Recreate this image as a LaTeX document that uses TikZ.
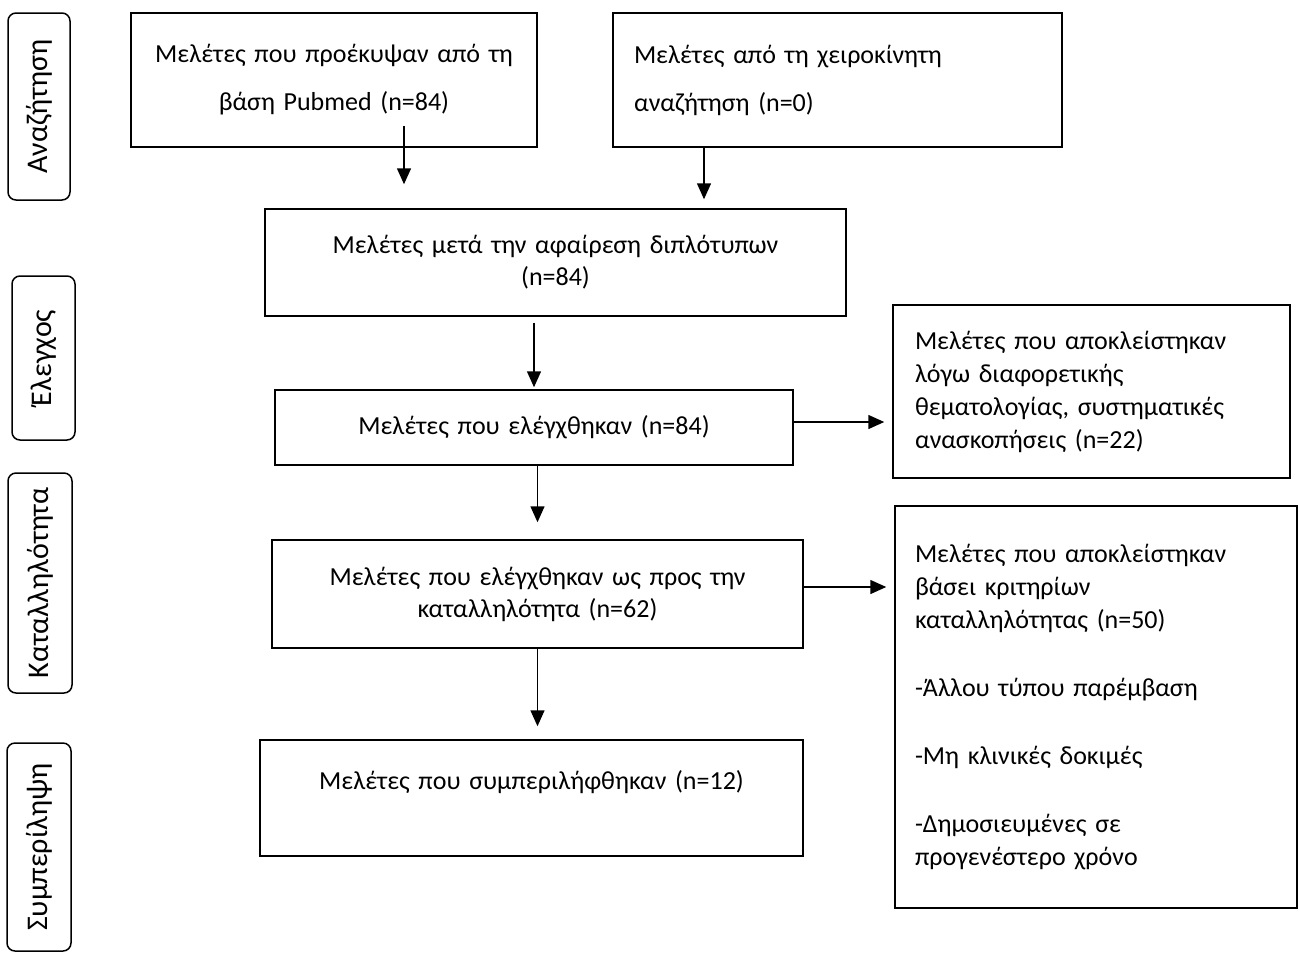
\documentclass[tikz,border=0pt]{standalone}
\usepackage{fontspec}
\setmainfont{Carlito}
\usetikzlibrary{arrows.meta}

\begin{document}
\begin{tikzpicture}[
      x=0.5pt, y=-0.5pt,
      every node/.style={font=\fontsize{13}{16.5}\selectfont},
      flowbox/.style={draw, line width=0.75pt, inner sep=0pt, inner xsep=6pt, align=center},
      leftbox/.style={flowbox, align=left},
      phase/.style={draw, line width=0.75pt, rounded corners=4pt, rotate=90, inner sep=0pt,
        font=\fontsize{15}{18}\selectfont},
      arr/.style={line width=0.75pt, -{Triangle[width=7pt,length=8pt]}}
    ]
      \useasboundingbox (0,0) rectangle (1300,954);

      \node[phase, minimum width=93.5pt, minimum height=31pt] (search) at (39,106.5) {Αναζήτηση};
      \node[phase, minimum width=82pt, minimum height=31.5pt] (check) at (43.5,358) {Έλεγχος};
      \node[phase, minimum width=110pt, minimum height=32pt] (suit) at (40,583) {Καταλληλότητα};
      \node[phase, minimum width=104pt, minimum height=32pt] (incl) at (39,847) {Συμπερίληψη};

      \node[flowbox, text width=191pt, minimum height=67pt,
        font=\fontsize{13}{24}\selectfont] (pubmed) at (334,80)
        {Μελέτες που προέκυψαν από τη\\ βάση Pubmed (n=84)};
      \node[leftbox, inner xsep=10.5pt, text width=203.5pt, minimum height=67pt,
        font=\fontsize{13}{24}\selectfont] (hand) at (837.5,80)
        {Μελέτες από τη χειροκίνητη\\ αναζήτηση (n=0)};
      \node[flowbox, text width=278.5pt, minimum height=53.5pt,
        font=\fontsize{13}{16}\selectfont] (dedup) at (555.5,262.5)
        {Μελέτες μετά την αφαίρεση διπλότυπων\\ (n=84)};
      \node[flowbox, text width=247pt, minimum height=37.5pt] (screened) at (534,427.5)
        {Μελέτες που ελέγχθηκαν (n=84)};
      \node[leftbox, inner xsep=11pt, text width=176.5pt, minimum height=86.5pt] (excltopic) at (1091.5,391.5)
        {Μελέτες που αποκλείστηκαν\\ λόγω διαφορετικής\\ θεματολογίας, συστηματικές\\ ανασκοπήσεις (n=22)};
      \node[flowbox, text width=253.5pt, minimum height=54pt,
        font=\fontsize{13}{16}\selectfont] (elig) at (537.5,594)
        {Μελέτες που ελέγχθηκαν ως προς την\\ καταλληλότητα (n=62)};
      \node[leftbox, inner xsep=10pt, text width=181pt, minimum height=201pt] (exclcrit) at (1096,707)
        {Μελέτες που αποκλείστηκαν\\ βάσει κριτηρίων\\ καταλληλότητας (n=50)\\[17.5pt]
         -Άλλου τύπου παρέμβαση\\[17.5pt]
         -Μη κλινικές δοκιμές\\[17.5pt]
         -Δημοσιευμένες σε\\ προγενέστερο χρόνο};
      \node[flowbox, text width=259.5pt, minimum height=58pt] (included) at (531.5,798)
        {Μελέτες που συμπεριλήφθηκαν (n=12)\\[2pt] \mbox{}};

      \draw[arr, shorten >=1pt] ([xshift=35pt,yshift=11pt]pubmed.south)
        -- ([xshift=35pt,yshift=11pt]pubmed.south |- dedup.north);
      \draw[arr, shorten >=4.5pt] ([xshift=-66.75pt]hand.south)
        -- ([xshift=-66.75pt]hand.south |- dedup.north);
      \draw[arr, shorten <=3pt, shorten >=1pt] (dedup.south -| screened.north) -- (screened.north);
      \draw[arr, shorten >=4pt] ([yshift=2.75pt]screened.east) -- ([yshift=2.75pt]screened.east -| excltopic.west);
      \draw[arr, shorten >=8.5pt] (screened.south -| elig.north) -- (elig.north);
      \draw[arr, shorten >=4pt] ([yshift=3.5pt]elig.east) -- ([yshift=3.5pt]elig.east -| exclcrit.west);
      \draw[arr, shorten >=6.5pt] (elig.south) -- (elig.south |- included.north);
    \end{tikzpicture}
\end{document}
